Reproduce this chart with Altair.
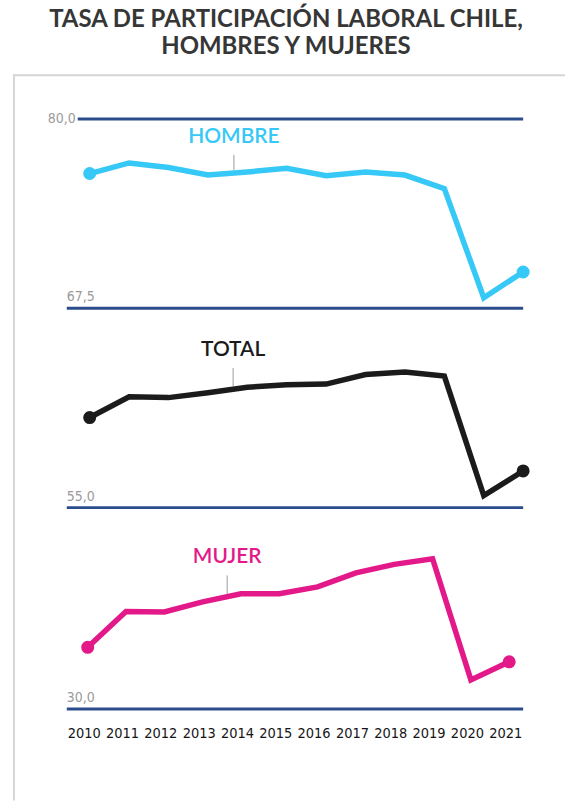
import altair as alt
import pandas as pd

# ---- data ----
years = list(range(2010, 2022))
hombre = [76.4, 77.1, 76.8, 76.3, 76.5, 76.75, 76.25, 76.5, 76.3, 75.4, 68.2, 69.9]
total = [60.65, 61.95, 61.9, 62.2, 62.55, 62.7, 62.75, 63.35, 63.5, 63.25, 55.75, 57.3]
mujer = [37.65, 42.1, 42.05, 43.3, 44.3, 44.3, 45.15, 46.9, 47.95, 48.65, 33.6, 35.85]

series_names = ["HOMBRE", "TOTAL", "MUJER"]
panel_top = [80.0, 67.5, 55.0]
panel_bottom = [67.5, 55.0, 30.0]
label_top_text = "80,0"
label_bottom_text = ["67,5", "55,0", "30,0"]
# annotation anchors (year position, label value, tick start, tick end)
ann_x = [2013.66, 2013.64, 2013.64]
ann_label_y = [78.82, 64.88, 48.81]
ann_tick_y1 = [77.63, 63.75, 46.58]
ann_tick_y2 = [76.64, 62.62, 43.99]

COLORS = ["#36C8F7", "#1b1b1b", "#E3198A"]
BLUE = "#2c4d8c"
NARROW = "Liberation Sans Narrow, DejaVu Sans Condensed, sans-serif"
W = 458
HEIGHTS = [190, 200, 202]
XDOMS = [[2009.418, 2021.0], [2009.418, 2021.0], [2009.454, 2021.364]]


def panel(i, values):
    df = pd.DataFrame({"year": years, "v": values})
    ends = df[df["year"].isin([years[0], years[-1]])]
    xs = alt.Scale(domain=XDOMS[i], nice=False, zero=False)
    ys = alt.Scale(domain=[panel_bottom[i], panel_top[i]], nice=False, zero=False)
    if i == 2:
        xaxis = alt.Axis(values=years, format="d", orient="bottom", domain=False,
                         ticks=False, grid=False, labelFont=NARROW, labelFontSize=14.5,
                         labelColor="#151515", labelPadding=18, title=None,
                         labelFlush=False, labelOffset=-4)
    else:
        xaxis = None
    X = alt.X("year:Q", scale=xs, axis=xaxis)
    Y = alt.Y("v:Q", scale=ys, axis=None)

    layers = []
    bottom_df = pd.DataFrame({"v": [panel_bottom[i]], "t": [label_bottom_text[i]]})
    layers.append(alt.Chart(bottom_df).mark_rule(color=BLUE, strokeWidth=3).encode(
        y=alt.Y("v:Q", scale=ys, axis=None)))
    layers.append(alt.Chart(bottom_df).mark_text(
        align="left", baseline="bottom", dy=-4, font=NARROW, fontSize=14, color="#9a9a9a"
    ).encode(x=alt.value(0), y=alt.Y("v:Q", scale=ys, axis=None), text="t:N"))
    if i == 0:
        top_df = pd.DataFrame({"v": [panel_top[0]], "t": [label_top_text]})
        layers.append(alt.Chart(top_df).mark_rule(color=BLUE, strokeWidth=3).encode(
            x=alt.value(11), x2=alt.value(W), y=alt.Y("v:Q", scale=ys, axis=None)))
        layers.append(alt.Chart(top_df).mark_text(
            align="right", baseline="middle", font=NARROW, fontSize=14, color="#9a9a9a"
        ).encode(x=alt.value(9), y=alt.Y("v:Q", scale=ys, axis=None), text="t:N"))
        frame = alt.Chart(pd.DataFrame({"a": [0]}))
        layers.append(frame.mark_rule(color="#d5d5d5", strokeWidth=2).encode(
            x=alt.value(-53), y=alt.value(-45), y2=alt.value(684)))
        layers.append(frame.mark_rule(color="#d5d5d5", strokeWidth=2).encode(
            x=alt.value(-54), x2=alt.value(500), y=alt.value(-44)))

    ann_df = pd.DataFrame({"year": [ann_x[i]], "ly": [ann_label_y[i]],
                           "t1": [ann_tick_y1[i]], "t2": [ann_tick_y2[i]],
                           "name": [series_names[i]]})
    layers.append(alt.Chart(ann_df).mark_rule(color="#9a9a9a", strokeWidth=1).encode(
        x=alt.X("year:Q", scale=xs, axis=xaxis),
        y=alt.Y("t1:Q", scale=ys, axis=None), y2="t2:Q"))
    layers.append(alt.Chart(ann_df).mark_text(
        font="Lato", fontSize=21, fontWeight=600, color=COLORS[i],
        align="center", baseline="middle"
    ).encode(x=alt.X("year:Q", scale=xs, axis=xaxis),
             y=alt.Y("ly:Q", scale=ys, axis=None), text="name:N"))

    layers.append(alt.Chart(df).mark_line(color=COLORS[i], strokeWidth=5.5).encode(x=X, y=Y))
    layers.append(alt.Chart(ends).mark_circle(color=COLORS[i], size=170, opacity=1).encode(
        x=alt.X("year:Q", scale=xs, axis=xaxis), y=Y))
    return alt.layer(*layers).properties(width=W, height=HEIGHTS[i])


p1 = panel(0, hombre)
p2 = panel(1, total)
p3 = panel(2, mujer)

chart = alt.vconcat(p1, p2, p3, spacing=0, bounds="flush").resolve_scale(
    x="independent", y="independent"
).properties(
    title=alt.TitleParams(
        ["TASA DE PARTICIPACIÓN LABORAL CHILE,", "HOMBRES Y MUJERES"],
        font="Lato", fontSize=24, fontWeight="bold", color="#363636",
        anchor="middle", offset=14, dx=-3, lineHeight=27
    ),
    padding={"left": 12, "top": 7, "right": 0, "bottom": 0},
    background="white",
).configure_view(stroke=None)

chart.save("out.html", embed_options={"renderer": "svg", "actions": False})
